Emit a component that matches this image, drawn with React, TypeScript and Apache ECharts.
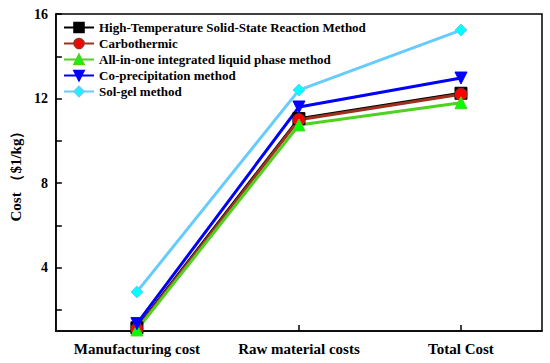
import React, { useEffect, useRef } from "react";
import * as echarts from "echarts";

const categories = ["Manufacturing cost", "Raw material costs", "Total Cost"];
const seriesNames = [
  "High-Temperature Solid-State Reaction Method",
  "Carbothermic",
  "All-in-one integrated liquid phase method",
  "Co-precipitation method",
  "Sol-gel method",
];
const highTemp = [1.15, 11.05, 12.25];
const carbothermic = [1.1, 11.0, 12.2];
const allInOne = [1.05, 10.75, 11.8];
const coPrecip = [1.35, 11.6, 12.97];
const solGel = [2.85, 12.4, 15.24];
const yLabelValues = [4, 8, 12, 16];
const yTickValues = [2, 4, 6, 8, 10, 12, 14, 16];

const FONT = "'Liberation Serif', 'Times New Roman', serif";

export default function App() {
  const ref = useRef<HTMLDivElement>(null);
  useEffect(() => {
    if (!ref.current) return;
    const chart = echarts.init(ref.current, undefined, { renderer: "svg" });
    const mk = (
      name: string,
      data: number[],
      lineColor: string,
      symColor: string,
      symbol: string,
      extra: any = {}
    ) => ({
      name,
      type: "line",
      data,
      symbol,
      symbolSize: 12,
      lineStyle: { color: lineColor, width: 3 },
      itemStyle: { color: symColor, borderColor: lineColor, borderWidth: 1 },
      ...extra,
    });
    chart.setOption({
      animation: false,
      backgroundColor: "#fff",
      grid: {
        left: 50,
        right: 8,
        top: 14,
        bottom: 32,
        show: true,
        borderColor: "#000",
        borderWidth: 1.5,
        backgroundColor: "transparent",
      },
      legend: {
        left: 58,
        top: 16,
        orient: "vertical",
        itemGap: 3,
        itemWidth: 30,
        itemHeight: 12,
        data: seriesNames,
        textStyle: {
          fontFamily: FONT,
          fontWeight: "bold",
          fontSize: 13,
          color: "#000",
        },
      },
      xAxis: {
        type: "category",
        data: categories,
        boundaryGap: true,
        axisLine: { lineStyle: { color: "#000", width: 1.5 } },
        axisTick: { show: true, inside: true, alignWithLabel: true, length: 6, lineStyle: { color: "#000", width: 1.5 } },
        axisLabel: {
          interval: 0,
          fontFamily: FONT,
          fontWeight: "bold",
          fontSize: 15,
          color: "#000",
          margin: 10,
        },
        splitLine: { show: false },
      },
      yAxis: {
        type: "value",
        min: 1,
        max: 16,
        name: "Cost （$1/kg）",
        nameLocation: "middle",
        nameGap: 27,
        nameTextStyle: {
          fontFamily: FONT,
          fontWeight: "bold",
          fontSize: 15,
          color: "#000",
        },
        axisLine: { show: true, lineStyle: { color: "#000", width: 1.5 } },
        axisTick: {
          show: true,
          inside: true,
          length: 6,
          customValues: yTickValues,
          lineStyle: { color: "#000", width: 1.5 },
        },
        axisLabel: {
          fontFamily: FONT,
          fontWeight: "bold",
          fontSize: 14,
          color: "#000",
          margin: 8,
          customValues: yLabelValues,
        },
        splitLine: { show: false },
      },
      series: [
        mk(seriesNames[0], highTemp, "#000000", "#000000", "rect"),
        mk(seriesNames[1], carbothermic, "#a0301e", "#ff0000", "circle"),
        mk(seriesNames[2], allInOne, "#4fd11f", "#00ff00", "triangle"),
        mk(seriesNames[3], coPrecip, "#0000ff", "#0000ff", "triangle", { symbolRotate: 180 }),
        mk(seriesNames[4], solGel, "#66ccff", "#00ffff", "diamond"),
      ],
    });
    return () => chart.dispose();
  }, []);
  return <div ref={ref} style={{ width: 550, height: 363, position: "absolute", left: 0, top: 0 }} />;
}
